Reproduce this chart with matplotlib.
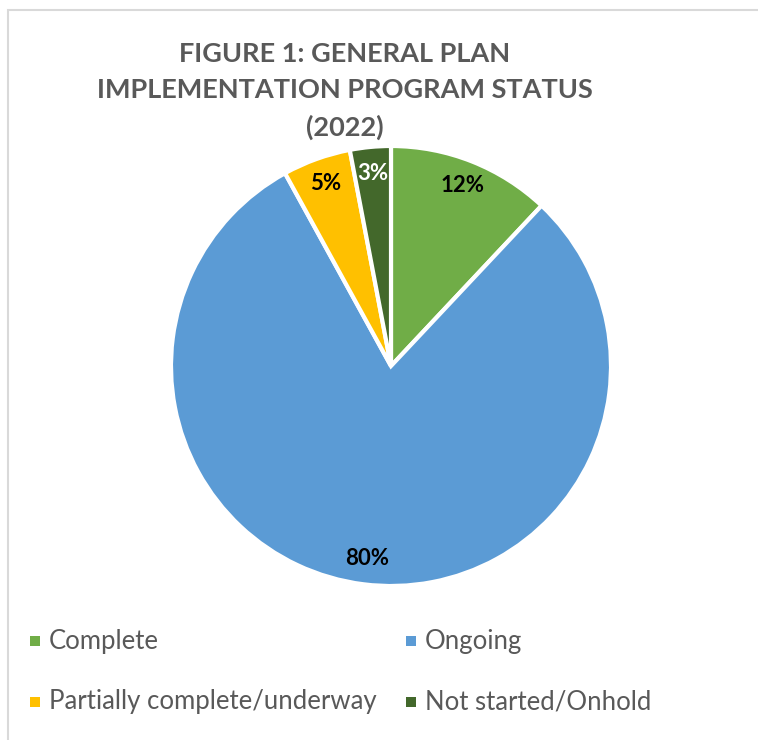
import matplotlib
matplotlib.use("Agg")
import matplotlib.pyplot as plt
from matplotlib.patches import Rectangle

# chart data
categories = ["Complete", "Ongoing", "Partially complete/underway", "Not started/Onhold"]
shares = [12, 80, 5, 3]
colors = ["#70AD47", "#5B9BD5", "#FFC000", "#43682B"]
label_colors = ["black", "black", "black", "white"]
title = "FIGURE 1: GENERAL PLAN\nIMPLEMENTATION PROGRAM STATUS\n(2022)"

plt.rcParams["font.family"] = ["Lato", "DejaVu Sans"]
text_gray = "#595959"
W, H = 758, 740

fig = plt.figure(figsize=(W / 100, H / 100), dpi=100)

# light chart border like the office chart frame
fig.patches.append(Rectangle((8 / W, -0.1), 1.2, 1 - 10 / H + 0.1,
                             transform=fig.transFigure, fill=False,
                             edgecolor="#D9D9D9", linewidth=1.5))

ax = fig.add_axes([171 / W, 154 / H, 440 / W, 440 / H])
wedges, texts, autotexts = ax.pie(
    shares, colors=colors, startangle=90, counterclock=False,
    autopct="%d%%", pctdistance=0.88,
    wedgeprops=dict(edgecolor="white", linewidth=3))
for t, c in zip(autotexts, label_colors):
    t.set_color(c)
    t.set_fontweight("bold")
    t.set_fontsize(16)
ax.set_xlim(-1, 1)
ax.set_ylim(-1, 1)
ax.set_aspect("equal")

fig.text(345 / W, 1 - 91 / H, title, ha="center", va="center",
         fontsize=19.5, fontweight="bold", color=text_gray, linespacing=1.62)

# legend: two rows, two columns, small squares
col_x = [30, 406]
row_y = [641, 702]
for i, cat in enumerate(categories):
    x = col_x[i % 2]
    y = row_y[i // 2]
    fig.patches.append(Rectangle((x / W, (H - y - 5) / H), 10 / W, 10 / H,
                                 transform=fig.transFigure,
                                 facecolor=colors[i], edgecolor="none"))
    fig.text((x + 19) / W, 1 - y / H, cat, ha="left", va="center",
             fontsize=18.5, color=text_gray)

fig.savefig("out.png", dpi=100)
